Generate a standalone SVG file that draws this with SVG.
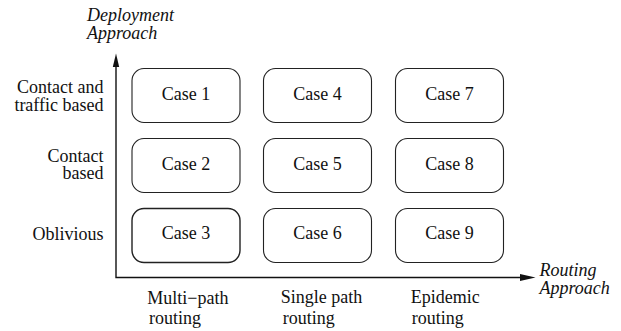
<svg xmlns="http://www.w3.org/2000/svg" width="621" height="331" viewBox="0 0 621 331">
<style>
.box{fill:#fff;stroke:#222;stroke-width:1.1}
.t{font-family:"Liberation Serif","Times New Roman",serif;font-size:18px;fill:#111}
.c{text-anchor:middle}
.r{text-anchor:end}
.i{font-style:italic}
.ax{stroke:#111;stroke-width:1.4;fill:none}
.ah{fill:#111}
</style>
<rect width="621" height="331" fill="#fff"/>
<g id="connectors">
<path class="ax" d="M116,66 V277.5 H521"/>
<polygon class="ah" points="116,53.5 112.8,67 119.2,67"/>
<polygon class="ah" points="535.5,277.5 520,274 520,281"/>
</g>
<g id="axis-labels">
<text class="t i" x="87" y="21">Deployment</text>
<text class="t i" x="87" y="38.5">Approach</text>
<text class="t i" x="539.5" y="276">Routing</text>
<text class="t i" x="539.5" y="294">Approach</text>
</g>
<g id="row-labels">
<text class="t r" x="103.5" y="92.5">Contact and</text>
<text class="t r" x="103.5" y="111">traffic based</text>
<text class="t r" x="103.5" y="161.8">Contact</text>
<text class="t r" x="103.5" y="179">based</text>
<text class="t r" x="103.5" y="240">Oblivious</text>
</g>
<g id="col-labels">
<text class="t" x="147.3" y="303.5">Multi−path</text>
<text class="t" x="149" y="324">routing</text>
<text class="t" x="280.7" y="303.3">Single path</text>
<text class="t" x="282.7" y="324">routing</text>
<text class="t" x="410.7" y="303.3">Epidemic</text>
<text class="t" x="411.7" y="324">routing</text>
</g>
<g id="case1"><rect class="box" x="132" y="68.5" width="108" height="54" rx="12"/><text class="t c" x="186" y="100">Case 1</text></g>
<g id="case2"><rect class="box" x="132" y="138.5" width="108" height="54" rx="12"/><text class="t c" x="186" y="169.5">Case 2</text></g>
<g id="case3"><rect class="box" x="132" y="208.5" width="108" height="54" rx="12" style="stroke-width:1.4"/><text class="t c" x="186" y="239.3">Case 3</text></g>
<g id="case4"><rect class="box" x="263.5" y="68.5" width="108" height="54" rx="12"/><text class="t c" x="317.5" y="100">Case 4</text></g>
<g id="case5"><rect class="box" x="263.5" y="138.5" width="108" height="54" rx="12"/><text class="t c" x="317.5" y="169.5">Case 5</text></g>
<g id="case6"><rect class="box" x="263.5" y="208.5" width="108" height="54" rx="12"/><text class="t c" x="317.5" y="239.3">Case 6</text></g>
<g id="case7"><rect class="box" x="395.5" y="68.5" width="108" height="54" rx="12"/><text class="t c" x="449.5" y="100">Case 7</text></g>
<g id="case8"><rect class="box" x="395.5" y="138.5" width="108" height="54" rx="12"/><text class="t c" x="449.5" y="169.5">Case 8</text></g>
<g id="case9"><rect class="box" x="395.5" y="208.5" width="108" height="54" rx="12"/><text class="t c" x="449.5" y="239.3">Case 9</text></g>
</svg>
